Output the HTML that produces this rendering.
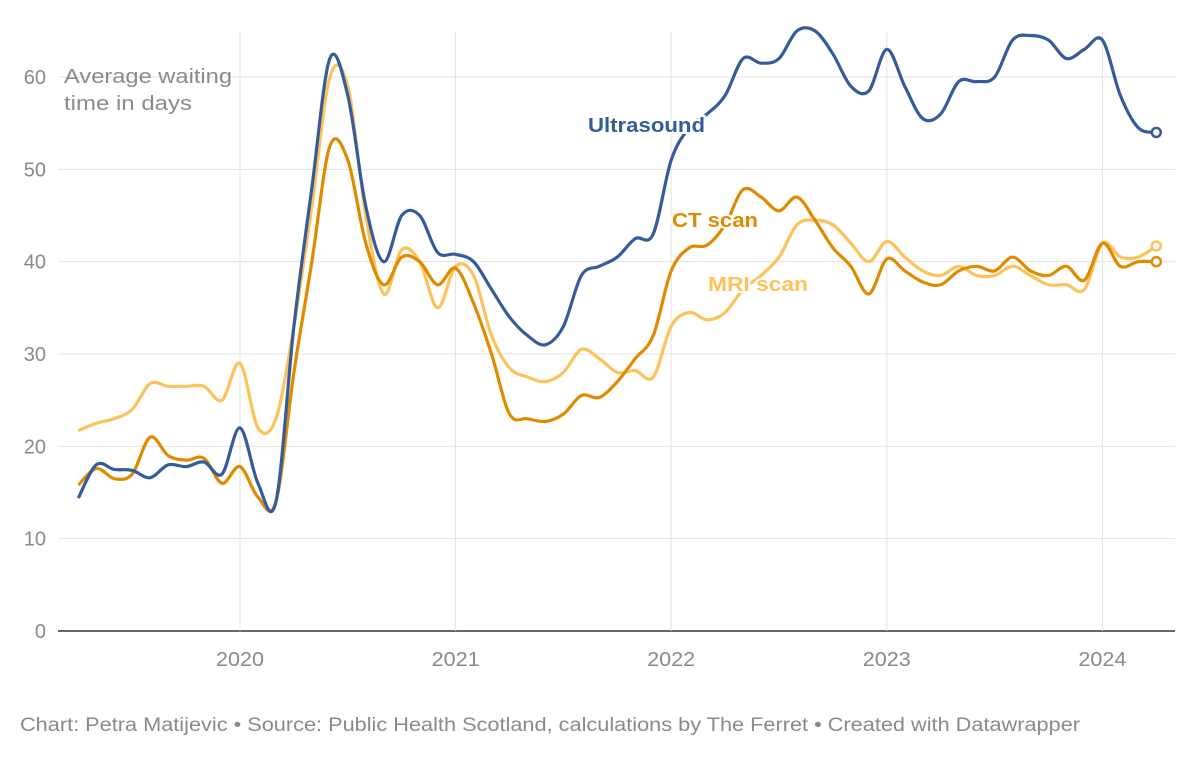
<!DOCTYPE html>
<html><head><meta charset="utf-8"><style>
body{margin:0;background:#fff;font-family:"Liberation Sans",sans-serif}
svg{display:block}
</style></head><body>
<svg id="chart" width="1200" height="758"></svg>
<script>
const startYear = 2019.25;
const years = [2020, 2021, 2022, 2023, 2024];
const yTicks = [0, 10, 20, 30, 40, 50, 60];
const ultrasound = [14.4,18,17.5,17.4,16.6,18,17.8,18.3,17,22,16,14,33,48,62,58,46,40,45,45,41,40.8,40,37,34,32,31,33,38.5,39.5,40.5,42.5,43,51,54.5,56,58,62,61.5,62,65,65,62.5,59,58.5,63,59,55.5,56,59.5,59.5,60,64,64.5,64,62,63,64,58,54.5,54];
const ctScan = [15.8,17.6,16.5,17,21,19,18.5,18.7,16,17.8,14.5,14,28,40,52.5,51,42,37.5,40.5,40,37.5,39.3,35.5,30,23.5,23,22.7,23.5,25.5,25.3,27,29.5,32,39,41.5,41.8,44,47.8,47,45.5,47,44.5,41.5,39.5,36.5,40.3,39,37.8,37.5,39,39.5,39,40.5,39,38.5,39.5,38,42,39.5,40,40];
const mriScan = [21.7,22.5,23,24,26.8,26.5,26.5,26.5,25,29,22,23,33,46,60,59,45,36.5,41.3,40,35,39.5,38.5,32,28.5,27.5,27,28,30.5,29.5,28,28.2,27.5,33,34.5,33.7,34.5,37,38.5,40.5,44,44.5,44,42,40,42.2,40.5,39,38.5,39.5,38.5,38.5,39.5,38.5,37.5,37.5,37,42,40.5,40.5,41.7];

const svg = document.getElementById('chart');
const NS = 'http://www.w3.org/2000/svg';
const xs = t => 240 + (t - 2020) * 215.6;
const ys = v => 631 - v * 9.233;
function mk(tag, attrs, parent){const e=document.createElementNS(NS,tag);for(const k in attrs)e.setAttribute(k,attrs[k]);(parent||svg).appendChild(e);return e;}

yTicks.forEach(v=>{
  const l=mk('line',{x1:58,x2:1175,y1:ys(v),y2:ys(v),stroke:v===0?'#333':'#e3e3e3','stroke-width':v===0?1.5:1});
  
  
  const t=mk('text',{x:46,y:ys(v)+7,'text-anchor':'end','font-size':20,fill:'#8a8a8a'});
  t.textContent=v;
  
  
});
years.forEach(y=>{
  const l=mk('line',{x1:xs(y),x2:xs(y),y1:32,y2:631,stroke:'#e3e3e3','stroke-width':1});
  
  
  const t=mk('text',{x:xs(y),y:666,'text-anchor':'middle','font-size':20,fill:'#8a8a8a',textLength:48,lengthAdjust:'spacingAndGlyphs'});
  t.textContent=y;
  
  
});
const yt1=mk('text',{x:64,y:83,'font-size':20,fill:'#8a8a8a',textLength:168,lengthAdjust:'spacingAndGlyphs'});
yt1.textContent='Average waiting';


const yt2=mk('text',{x:64,y:110,'font-size':20,fill:'#8a8a8a',textLength:128,lengthAdjust:'spacingAndGlyphs'});
yt2.textContent='time in days';



function path(vals){
  const p=vals.map((v,i)=>[xs(startYear+i/12),ys(v)]);
  let d='M'+p[0][0]+','+p[0][1];
  for(let i=0;i<p.length-1;i++){
    const p0=p[i-1]||p[i],p1=p[i],p2=p[i+1],p3=p[i+2]||p2;
    const c1=[p1[0]+(p2[0]-p0[0])/6,p1[1]+(p2[1]-p0[1])/6];
    const c2=[p2[0]-(p3[0]-p1[0])/6,p2[1]-(p3[1]-p1[1])/6];
    d+=`C${c1[0]},${c1[1]} ${c2[0]},${c2[1]} ${p2[0]},${p2[1]}`;
  }
  return d;
}
const series=[['mri-scan-line',mriScan,'#fdc25a'],['ct-scan-line',ctScan,'#e08a00'],['ultrasound-line',ultrasound,'#355c9a']];
series.forEach(([n,vals,c])=>{
  const p=mk('path',{d:path(vals),fill:'none',stroke:c,'stroke-width':3.2,'stroke-linejoin':'round'});
  
  
  const last=vals.length-1;
  const dot=mk('circle',{cx:xs(startYear+last/12),cy:ys(vals[last]),r:4.5,fill:'#fff',stroke:c,'stroke-width':2.5});
  
  
});
[['Ultrasound',588,132,117,'#355c9a','ultrasound-label'],['CT scan',672,227,86,'#e08a00','ct-scan-label'],['MRI scan',708,291,100,'#fdc25a','mri-scan-label']].forEach(([s,x,y,w,c,n])=>{
  const t=mk('text',{x:x,y:y,'font-size':20,'font-weight':'bold',fill:c,stroke:'#fff','stroke-width':4,'paint-order':'stroke',textLength:w,lengthAdjust:'spacingAndGlyphs'});
  t.textContent=s;
  
  
});
const f=mk('text',{x:20,y:731,'font-size':19,fill:'#8a8a8a',textLength:1060,lengthAdjust:'spacingAndGlyphs'});
f.textContent='Chart: Petra Matijevic • Source: Public Health Scotland, calculations by The Ferret • Created with Datawrapper';


</script>
</body></html>
